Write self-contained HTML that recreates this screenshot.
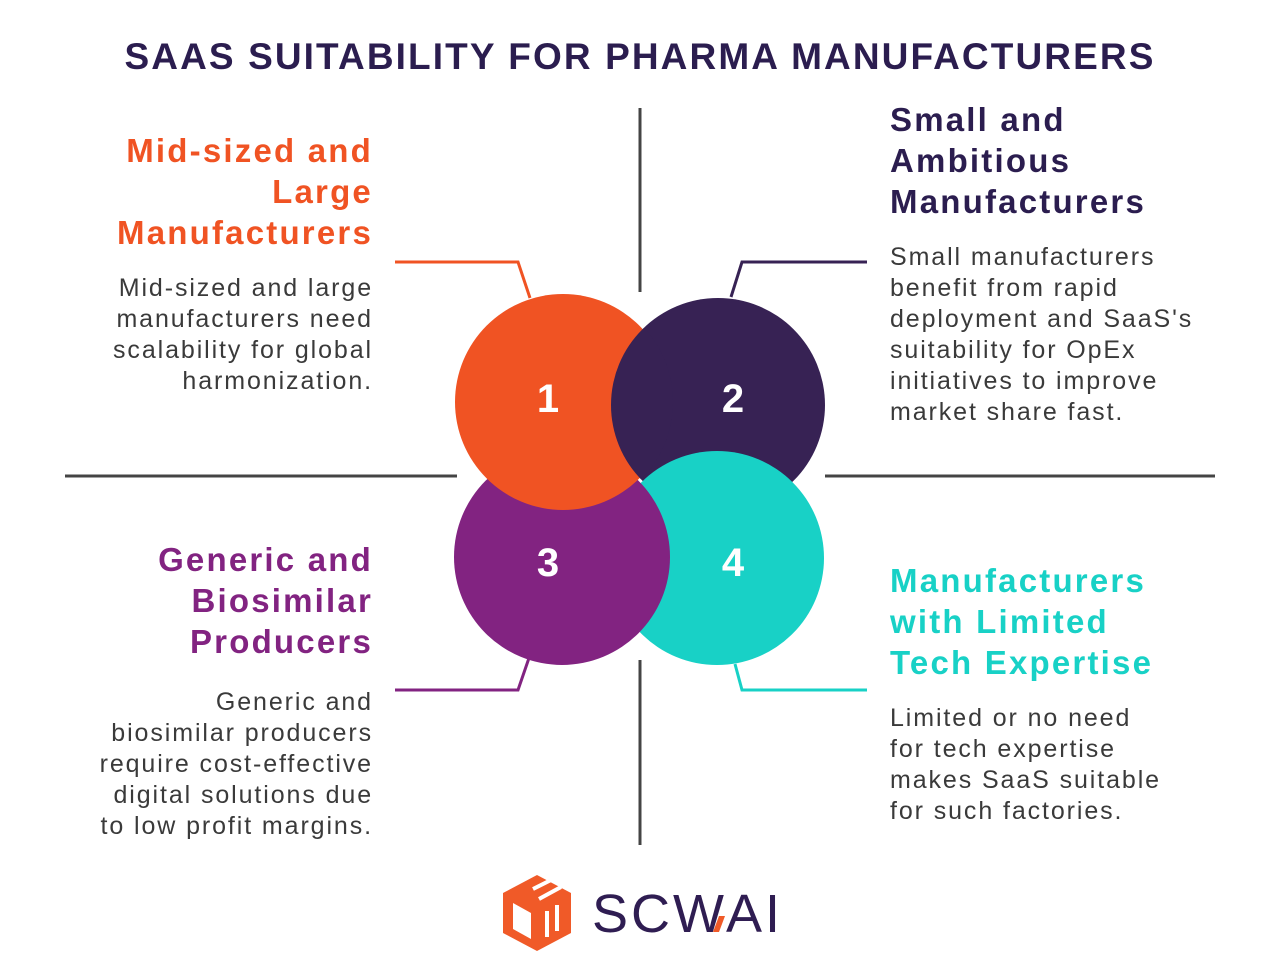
<!DOCTYPE html>
<html><head><meta charset="utf-8"><style>
body{margin:0;width:1280px;height:960px;background:#fff;position:relative;font-family:"Liberation Sans",sans-serif;overflow:hidden}
.t{position:absolute;white-space:nowrap}
h1{position:absolute;margin:0;top:36px;left:0;width:1280px;text-align:center;font-size:37px;font-weight:bold;color:#2b1d4f;letter-spacing:2.1px}
.h{font-weight:bold;font-size:33px;line-height:41px;letter-spacing:2.2px}
.b{font-size:25px;line-height:31px;color:#3a3a3a;letter-spacing:1.9px}
.r{text-align:right}
.r.h,.r.b{margin-right:-2px}
</style></head><body>
<h1>SAAS SUITABILITY FOR PHARMA MANUFACTURERS</h1>
<svg width="1280" height="960" style="position:absolute;left:0;top:0">
<defs><clipPath id="c1"><circle cx="563" cy="402" r="110"/></clipPath></defs>
<g stroke="#444" stroke-width="3">
<line x1="640" y1="108" x2="640" y2="292"/><line x1="640" y1="660" x2="640" y2="845"/>
<line x1="65" y1="476" x2="457" y2="476"/><line x1="825" y1="476" x2="1215" y2="476"/>
</g>
<g fill="none" stroke-width="3">
<polyline points="395,262 518,262 530,298" stroke="#f05323"/>
<polyline points="867,262 742,262 731,297" stroke="#372254"/>
<polyline points="395,690 518,690 529,658" stroke="#822381"/>
<polyline points="867,690 742,690 735,664" stroke="#18d1c6"/>
</g>
<circle cx="718" cy="405" r="107" fill="#372254"/>
<circle cx="717" cy="558" r="107" fill="#18d1c6"/>
<circle cx="562" cy="557" r="108" fill="#822381"/>
<circle cx="563" cy="402" r="108" fill="#f05323"/>
<circle cx="718" cy="405" r="107" fill="#372254" clip-path="url(#c1)"/>
<g fill="#fff" font-family="Liberation Sans" font-weight="bold" font-size="40" text-anchor="middle">
<text x="548" y="412">1</text><text x="733" y="412">2</text><text x="548" y="576">3</text><text x="733" y="576">4</text>
</g>
<g transform="translate(503,875)">
<polygon points="34,0 68,18 68,58 34,76 0,58 0,18" fill="#f05a28"/>
<polygon points="10,28 28,38 28,64 10,54" fill="#fff"/>
<line x1="30" y1="14" x2="50" y2="4" stroke="#fff" stroke-width="4"/>
<line x1="36" y1="24" x2="58" y2="12" stroke="#fff" stroke-width="4"/>
<line x1="44" y1="36" x2="44" y2="62" stroke="#fff" stroke-width="4"/>
<line x1="54" y1="30" x2="54" y2="56" stroke="#fff" stroke-width="4"/>
</g>
<text x="592" y="932" font-family="Liberation Sans" font-size="54" fill="#2f1d52" letter-spacing="3">SCW</text>
<polygon points="713,932 719,916 725,916 719,932" fill="#f05a28"/>
<text x="726" y="932" font-family="Liberation Sans" font-size="54" fill="#2f1d52" letter-spacing="3">AI</text>
</svg>
<div class="t h r" style="right:909px;top:130px;color:#f05323">Mid-sized and<br>Large<br>Manufacturers</div>
<div class="t b r" style="right:909px;top:273px">Mid-sized and large<br>manufacturers need<br>scalability for global<br>harmonization.</div>
<div class="t h" style="left:890px;top:99px;color:#2b1d4f">Small and<br>Ambitious<br>Manufacturers</div>
<div class="t b" style="left:890px;top:242px">Small manufacturers<br>benefit from rapid<br>deployment and SaaS's<br>suitability for OpEx<br>initiatives to improve<br>market share fast.</div>
<div class="t h r" style="right:909px;top:539px;color:#822381">Generic and<br>Biosimilar<br>Producers</div>
<div class="t b r" style="right:909px;top:687px">Generic and<br>biosimilar producers<br>require cost-effective<br>digital solutions due<br>to low profit margins.</div>
<div class="t h" style="left:890px;top:560px;color:#18d1c6">Manufacturers<br>with Limited<br>Tech Expertise</div>
<div class="t b" style="left:890px;top:703px">Limited or no need<br>for tech expertise<br>makes SaaS suitable<br>for such factories.</div>
</body></html>
